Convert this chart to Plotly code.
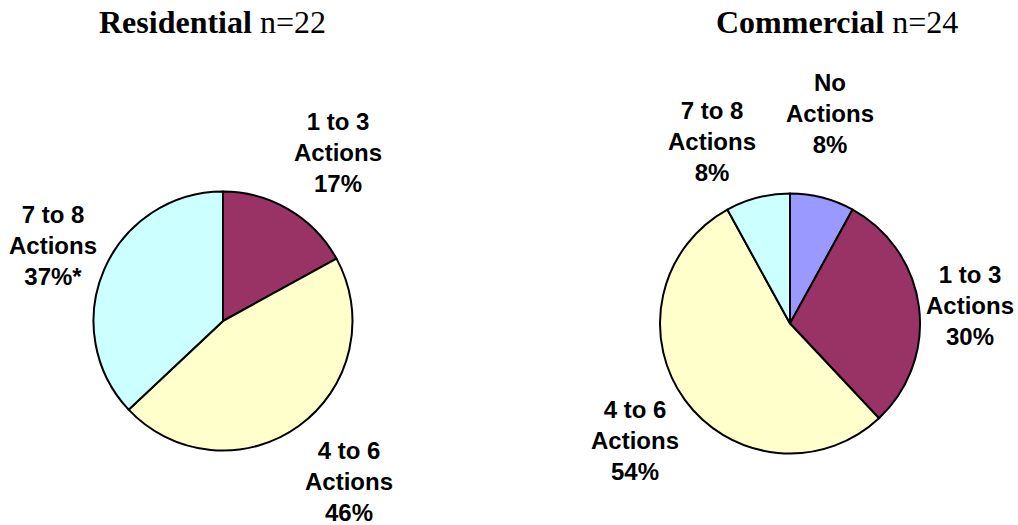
import plotly.graph_objects as go

W, H = 1018, 525

# ---- data ----
res_categories = ["1 to 3 Actions", "4 to 6 Actions", "7 to 8 Actions"]
res_values = [17, 46, 37]
res_notes = ["", "", "*"]

com_categories = ["No Actions", "1 to 3 Actions", "4 to 6 Actions", "7 to 8 Actions"]
com_values = [8, 30, 54, 8]
com_notes = ["", "", "", ""]

colors_by_cat = {
    "No Actions": "#9999FF",
    "1 to 3 Actions": "#993366",
    "4 to 6 Actions": "#FFFFCC",
    "7 to 8 Actions": "#CCFFFF",
}

res_title = ("Residential", "n=22")
com_title = ("Commercial", "n=24")

# ---- layout helpers (pixel geometry) ----
def px_domain(cx, cy, r):
    return dict(x=[(cx - r) / W, (cx + r) / W], y=[1 - (cy + r) / H, 1 - (cy - r) / H])

res_geom = (223, 321, 129.5)
com_geom = (790, 323.5, 130)

# label centre positions (pixels) per slice
res_label_pos = [(338, 153), (349, 481), (53, 245)]
com_label_pos = [(830, 113), (970, 305), (635, 440), (712, 141)]

fig = go.Figure()
for cats, vals, geom in [(res_categories, res_values, res_geom), (com_categories, com_values, com_geom)]:
    fig.add_trace(go.Pie(
        labels=cats, values=vals, sort=False, direction="clockwise", rotation=0,
        marker=dict(colors=[colors_by_cat[c] for c in cats], line=dict(color="black", width=2)),
        textinfo="none", hoverinfo="label+percent", showlegend=False,
        domain=px_domain(*geom),
    ))

annotations = []
for cats, vals, notes, positions in [
    (res_categories, res_values, res_notes, res_label_pos),
    (com_categories, com_values, com_notes, com_label_pos),
]:
    for c, v, n, (x, y) in zip(cats, vals, notes, positions):
        first, second = c.rsplit(" ", 1)
        annotations.append(dict(
            text=f"<b>{first}<br>{second}<br>{v}%{n}</b>",
            x=x / W, y=1 - y / H, xref="paper", yref="paper",
            xanchor="center", yanchor="middle", showarrow=False, align="center",
            font=dict(family="Liberation Sans, Arial, sans-serif", size=24, color="black"),
        ))

for (bold, rest), cx in [(res_title, 212), (com_title, 837)]:
    annotations.append(dict(
        text=f"<b>{bold}</b> {rest}",
        x=cx / W, y=1 - 22 / H, xref="paper", yref="paper",
        xanchor="center", yanchor="middle", showarrow=False,
        font=dict(family="Liberation Serif, Times New Roman, serif", size=32, color="black"),
    ))

fig.update_layout(
    width=W, height=H,
    margin=dict(l=0, r=0, t=0, b=0),
    paper_bgcolor="white", plot_bgcolor="white",
    annotations=annotations,
)

fig.write_html(
    "out.html",
    config={"displayModeBar": False},
    post_script="document.body.style.margin='0';document.body.style.overflow='hidden';",
)
